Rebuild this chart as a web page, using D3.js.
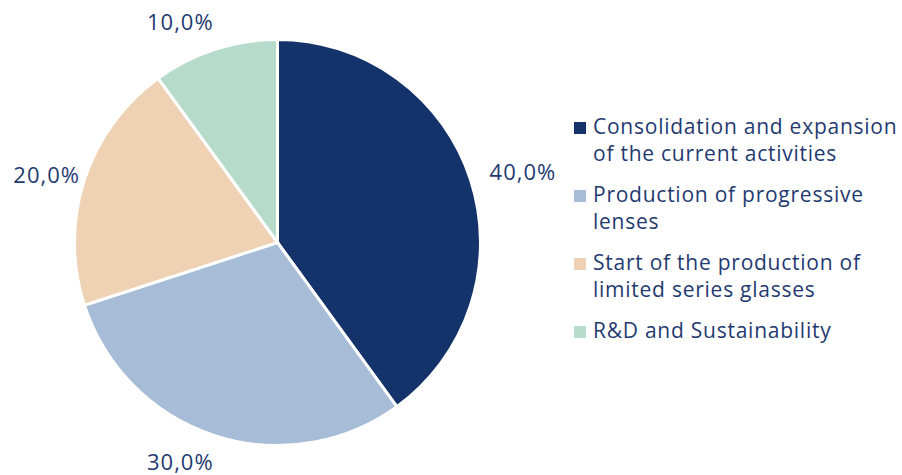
<!DOCTYPE html>
<html>
<head>
<meta charset="utf-8">
<script src="https://cdn.jsdelivr.net/npm/d3@7"></script>
<style>
  html, body { margin: 0; padding: 0; background: #ffffff; }
  svg { display: block; }
  text { font-family: "Open Sans", "Noto Sans", sans-serif; fill: #1f3a70; }
</style>
</head>
<body>
<svg id="chart" width="902" height="475"></svg>
<script>
// Allocation of use of proceeds, in percent
const categories = [
  ["Consolidation and expansion", "of the current activities"],
  ["Production of progressive", "lenses"],
  ["Start of the production of", "limited series glasses"],
  ["R&D and Sustainability"]
];
const values = [40, 30, 20, 10];
const sliceColors = ["#15336b", "#a7bcd6", "#efd1b4", "#b7dbca"];

const width = 902, height = 475;
const cx = 277.5, cy = 242.5, radius = 203;

const svg = d3.select("#chart");

const data = categories.map((c, i) => ({ label: c, value: values[i], color: sliceColors[i] }));

const pie = d3.pie().sort(null).value(d => d.value);
const arc = d3.arc().innerRadius(0).outerRadius(radius);
const arcs = pie(data);
const total = d3.sum(values);

const g = svg.append("g").attr("transform", `translate(${cx},${cy})`);

g.selectAll("path.slice")
  .data(arcs)
  .join("path")
  .attr("class", "slice")
  .attr("d", arc)
  .attr("fill", d => d.data.color)
  .attr("stroke", "#ffffff")
  .attr("stroke-width", 3)
  .attr("stroke-linejoin", "miter");

// Percentage labels outside each slice
const fmt = v => d3.format(".1f")(v).replace(".", ",") + "%";
const labelRadius = 223;
g.selectAll("text.pct")
  .data(arcs)
  .join("text")
  .attr("class", "pct")
  .style("font-size", "22px")
  .style("letter-spacing", "1px")
  .each(function(d) {
    const a = (d.startAngle + d.endAngle) / 2;
    const s = Math.sin(a), c = Math.cos(a);
    // side labels sit a little closer to the rim on the left
    const r = (s < 0 && Math.abs(c) < 0.8) ? labelRadius - 10 : labelRadius;
    const x = r * s, y = -r * c;
    const t = d3.select(this)
      .attr("x", s >= 0 ? x : x + 5)
      .attr("y", y)
      .attr("text-anchor", s >= 0 ? "start" : "end");
    if (c > 0.8) t.attr("dy", "0");
    else if (c < -0.8) t.attr("dy", "0.68em");
    else t.attr("dy", "0.3em");
  })
  .text(d => fmt(d.data.value / total * 100));

// Legend
const legend = svg.append("g").attr("transform", "translate(574,0)");
const rowTops = d3.scaleOrdinal().domain(d3.range(categories.length)).range([134, 202, 270, 338]);
const lineGap = 27;

const rows = legend.selectAll("g.row")
  .data(data)
  .join("g")
  .attr("class", "row")
  .attr("transform", (d, i) => `translate(0,${rowTops(i)})`);

rows.append("rect")
  .attr("x", 0)
  .attr("y", -12)
  .attr("width", 12)
  .attr("height", 12)
  .attr("fill", d => d.color);

rows.append("text")
  .attr("x", 19)
  .attr("y", 0)
  .style("font-size", "21px")
  .style("letter-spacing", "0.75px")
  .selectAll("tspan")
  .data(d => d.label)
  .join("tspan")
  .attr("x", 19)
  .attr("dy", (d, i) => i === 0 ? 0 : lineGap)
  .text(d => d);
</script>
</body>
</html>
